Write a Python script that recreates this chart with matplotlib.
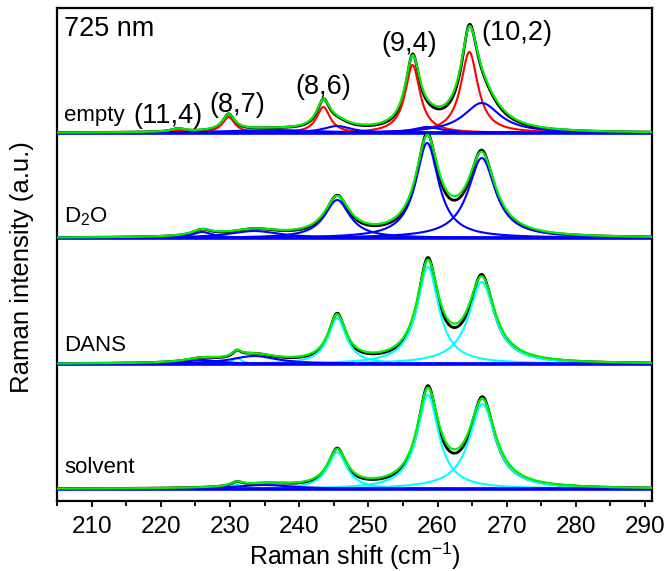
import numpy as np
import matplotlib.pyplot as plt
from matplotlib.ticker import MultipleLocator

plt.rcParams['font.family'] = ['Liberation Sans', 'DejaVu Sans']
plt.rcParams['mathtext.fontset'] = 'custom'
plt.rcParams['mathtext.rm'] = 'Liberation Sans'

# Lorentzian fit components: (centre cm-1, height, half width)
empty_red = [(222.5, 3, 1.2), (229.8, 16, 1.1), (243.5, 26, 1.2), (256.4, 68, 1.3), (264.6, 81, 1.5)]
empty_blue = [(236.0, 3, 8.0), (245.5, 7, 2.5), (258.5, 6, 2.5), (266.4, 30, 3.2)]
d2o_blue = [(226.0, 6, 1.8), (233.5, 7, 4.5), (245.5, 38, 2.2), (258.5, 95, 2.0), (266.4, 80, 2.4)]
dans_cyan = [(231.0, 6, 0.8), (245.5, 46, 1.6), (258.6, 97, 1.9), (266.4, 82, 2.3)]
dans_blue = [(226.0, 4, 3.0), (233.5, 8, 4.0)]
solvent_cyan = [(231.0, 4, 1.0), (245.5, 36.6, 1.7), (258.6, 94, 1.9), (266.5, 85, 2.3)]
solvent_blue = [(235.0, 4, 5.0)]

panel_names = ['empty', 'D$_\\mathregular{2}$O', 'DANS', 'solvent']
panel_offsets = [368, 263, 137, 12]
label_y = [380, 279, 150, 28]

peak_labels = ['(11,4)', '(8,7)', '(8,6)', '(9,4)', '(10,2)']
peak_label_x = [221.1, 231.1, 243.5, 255.9, 271.5]
peak_label_y = [378, 389, 407, 450, 461]

x = np.linspace(205, 291, 1500)


def lorentz(comp, width_scale=1.0, height_scale=1.0):
    c, h, w = comp
    w = w * width_scale
    return h * height_scale / (1 + ((x - c) / w) ** 2)


fig = plt.figure(figsize=(6.69, 5.71), dpi=100)
ax = fig.add_axes([57 / 669, 70 / 571, 595 / 669, 493.5 / 571])

panels = [
    [(empty_red, '#ff0000'), (empty_blue, '#0000ff')],
    [(d2o_blue, '#0000ff')],
    [(dans_cyan, '#00ffff'), (dans_blue, '#0000ff')],
    [(solvent_cyan, '#00ffff'), (solvent_blue, '#0000ff')],
]

for groups, off in zip(panels, panel_offsets):
    comps = [c for g, _ in groups for c in g]
    fit = sum(lorentz(c) for c in comps)
    measured = sum(lorentz(c, 0.92, 1.03) for c in comps)
    ax.plot(x, off + measured, color='black', lw=2.0, zorder=2)
    for g, col in groups:
        for c in g:
            ax.plot(x, off + lorentz(c), color=col, lw=1.5, zorder=3)
    ax.plot(x, off + np.zeros_like(x), color='#0000ff', lw=2.6, zorder=4)
    ax.plot(x, off + fit, color='#00ee00', lw=1.6, zorder=5)

for name, ly in zip(panel_names, label_y):
    ax.text(206.0, ly, name, fontsize=16, ha='left', va='baseline')

for lab, lx, ly in zip(peak_labels, peak_label_x, peak_label_y):
    ax.text(lx, ly, lab, fontsize=19.5, ha='center', va='baseline')

ax.text(206.0, 465, '725 nm', fontsize=19.5, ha='left', va='baseline')

ax.set_xlim(205, 291)
ax.set_ylim(0, 493.5)
ax.set_yticks([])
ax.set_xticks(np.arange(210, 291, 10))
ax.xaxis.set_minor_locator(MultipleLocator(5))
ax.tick_params(axis='x', which='major', direction='out', length=4, width=1.3,
               labelsize=17.5, pad=7)
ax.tick_params(axis='x', which='minor', direction='out', length=3.5, width=1.3)
for s in ax.spines.values():
    s.set_linewidth(1.6)

ax.set_xlabel('Raman shift (cm$^{\\mathregular{-1}}$)', fontsize=18)
ax.xaxis.set_label_coords(0.5, -0.081)
ax.set_ylabel('Raman intensity (a.u.)', fontsize=18.5)
ax.yaxis.set_label_coords(-0.038, 0.474)

fig.savefig('out.png', dpi=100)
